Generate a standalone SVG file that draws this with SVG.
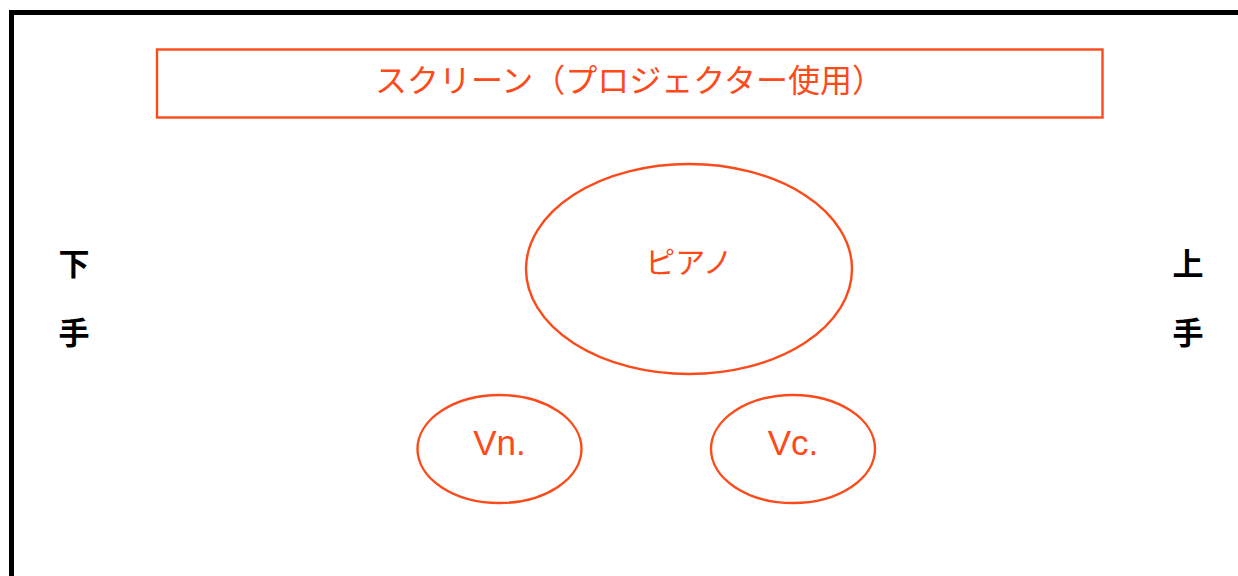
<svg xmlns="http://www.w3.org/2000/svg" width="1238" height="576" viewBox="0 0 1238 576">
<style>
.o{fill:none;stroke:#FC4A1A;stroke-width:2.4}
.t{fill:#FC4A1A;font-family:"Noto Sans CJK JP",sans-serif;text-anchor:middle}
.l{fill:#FC4A1A;font-family:"Liberation Sans",Arial,sans-serif;text-anchor:middle;font-size:35px}
.k{fill:#000;font-family:"Noto Sans CJK JP",sans-serif;font-weight:bold;font-size:31px;text-anchor:middle}
</style>
<rect width="1238" height="576" fill="#fff"/>
<rect x="11.5" y="12.5" width="1300" height="700" fill="none" stroke="#000" stroke-width="5"/>
<g id="screen">
<rect class="o" x="157" y="49.5" width="945.5" height="68"/>
<text class="t" x="629.5" y="92" font-size="32">スクリーン（プロジェクター使用）</text>
</g>
<g id="piano">
<ellipse class="o" cx="689" cy="269" rx="163" ry="105"/>
<text class="t" x="689" y="273" font-size="30">ピアノ</text>
</g>
<g id="vn">
<ellipse class="o" cx="499.5" cy="449" rx="82" ry="54"/>
<text class="l" x="499.5" y="455">Vn.</text>
</g>
<g id="vc">
<ellipse class="o" cx="793" cy="449" rx="82" ry="54"/>
<text class="l" x="793" y="455">Vc.</text>
</g>
<g id="shimote">
<text class="k" x="74" y="275">下</text>
<text class="k" x="74" y="344">手</text>
</g>
<g id="kamite">
<text class="k" x="1188" y="275">上</text>
<text class="k" x="1188" y="344">手</text>
</g>
<g id="connectors"/>
</svg>
